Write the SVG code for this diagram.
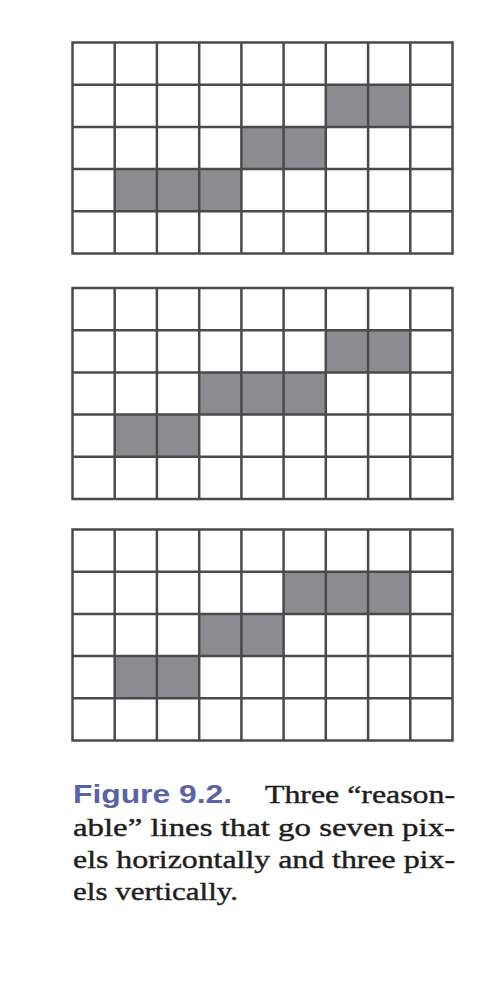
<svg xmlns="http://www.w3.org/2000/svg" width="480" height="987" viewBox="0 0 480 987">
<style>
.cell{fill:#8c8c90}
.grid{stroke:#4a4a4a;stroke-width:2.5;fill:none}
.cap{font-family:"Liberation Serif",serif;font-size:25px;fill:#1e1e1e;stroke:#1e1e1e;stroke-width:0.4}
.fig{font-family:"Liberation Sans",sans-serif;font-size:25px;font-weight:bold;fill:#5a62a8}
</style>
<defs>
<g id="gridlines">
<rect x="72.5" y="0" width="380" height="211" class="grid"/>
<path class="grid" d="M114.7 0V211M156.9 0V211M199.2 0V211M241.4 0V211M283.6 0V211M325.8 0V211M368.1 0V211M410.3 0V211M72.5 42.2H452.5M72.5 84.4H452.5M72.5 126.6H452.5M72.5 168.8H452.5"/>
</g>
</defs>
<rect width="480" height="987" fill="#ffffff"/>
<g id="grid1" transform="translate(0,42.5)">
<rect class="cell" x="325.8" y="42.2" width="84.5" height="42.2"/>
<rect class="cell" x="241.4" y="84.4" width="84.4" height="42.2"/>
<rect class="cell" x="114.7" y="126.6" width="126.7" height="42.2"/>
<use href="#gridlines"/>
</g>
<g id="grid2" transform="translate(0,288)">
<rect class="cell" x="325.8" y="42.2" width="84.5" height="42.2"/>
<rect class="cell" x="199.2" y="84.4" width="126.6" height="42.2"/>
<rect class="cell" x="114.7" y="126.6" width="84.5" height="42.2"/>
<use href="#gridlines"/>
</g>
<g id="grid3" transform="translate(0,529.5)">
<rect class="cell" x="283.6" y="42.2" width="126.7" height="42.2"/>
<rect class="cell" x="199.2" y="84.4" width="84.4" height="42.2"/>
<rect class="cell" x="114.7" y="126.6" width="84.5" height="42.2"/>
<use href="#gridlines"/>
</g>
<g id="caption">
<text class="fig" x="73" y="803" textLength="159" lengthAdjust="spacingAndGlyphs">Figure 9.2.</text>
<text class="cap" x="265" y="803" textLength="190" lengthAdjust="spacingAndGlyphs">Three “reason-</text>
<text class="cap" x="73" y="836" textLength="382" lengthAdjust="spacingAndGlyphs">able” lines that go seven pix-</text>
<text class="cap" x="73" y="868" textLength="382" lengthAdjust="spacingAndGlyphs">els horizontally and three pix-</text>
<text class="cap" x="73" y="900" textLength="165" lengthAdjust="spacingAndGlyphs">els vertically.</text>
</g>
</svg>
